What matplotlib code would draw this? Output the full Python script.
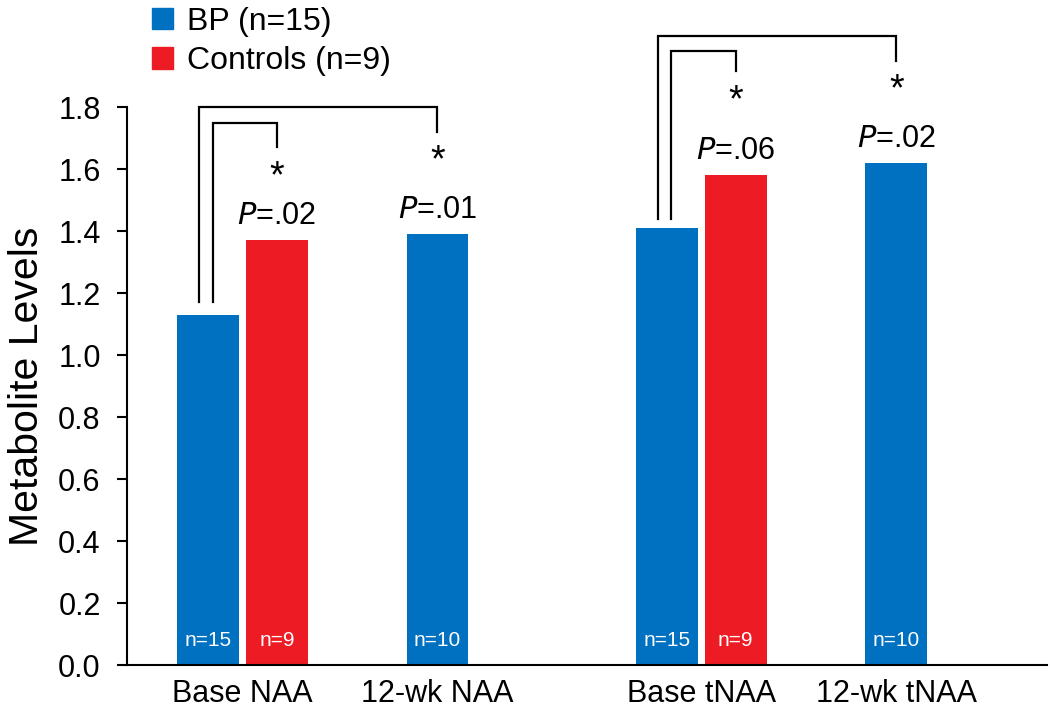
import numpy as np
import matplotlib
matplotlib.use('Agg')
import matplotlib.pyplot as plt
from matplotlib.patches import Patch

plt.rcParams['font.family'] = ['Liberation Sans', 'DejaVu Sans']

# Data
categories = ['Base NAA', '12-wk NAA', 'Base tNAA', '12-wk tNAA']
bp_values = [1.13, 1.39, 1.41, 1.62]
bp_n = ['n=15', 'n=10', 'n=15', 'n=10']
ctrl_values = [1.37, 1.58]          # only at baseline
ctrl_n = ['n=9', 'n=9']
p_labels = ['.02', '.01', '.06', '.02']
legend_labels = ['BP (n=15)', 'Controls (n=9)']

blue = '#0070C0'
red = '#ED1C24'

bp_x = np.arange(4)
ctrl_x = bp_x[[0, 2]] + 0.30
width = 0.27

fig = plt.figure(figsize=(10.5, 7.09), dpi=100)
ax = fig.add_axes([0.121, 0.062, 0.876, 0.787])

ax.bar(bp_x, bp_values, width, color=blue)
ax.bar(ctrl_x, ctrl_values, width, color=red)

# n labels inside bars
for x, t in zip(bp_x, bp_n):
    ax.text(x, 0.08, t, color='white', ha='center', va='center', fontsize=15)
for x, t in zip(ctrl_x, ctrl_n):
    ax.text(x, 0.08, t, color='white', ha='center', va='center', fontsize=15)

# P-value labels above the compared bars
p_x = [ctrl_x[0], bp_x[1], ctrl_x[1], bp_x[3]]
p_y = [ctrl_values[0], bp_values[1], ctrl_values[1], bp_values[3]]
for x, y, t in zip(p_x, p_y, p_labels):
    ax.text(x, y + 0.03, r'$\it{P}$' + '=' + t, ha='center', va='bottom', fontsize=22)


# brackets from baseline BP bar to the compared bar
def bracket(x0, x1, y_bottom, y_top, y_drop, star_y):
    ax.plot([x0, x0, x1, x1], [y_bottom, y_top, y_top, y_drop], color='black',
            lw=1.6, clip_on=False, solid_joinstyle='miter')
    ax.text(x1, star_y, '*', ha='center', va='center', fontsize=27)


bracket(bp_x[0] - 0.04, bp_x[1], 1.17, 1.80, 1.72, 1.625)
bracket(bp_x[0] + 0.02, ctrl_x[0], 1.17, 1.75, 1.67, 1.575)
bracket(bp_x[2] - 0.04, bp_x[3], 1.44, 2.03, 1.95, 1.855)
bracket(bp_x[2] + 0.02, ctrl_x[1], 1.44, 1.98, 1.915, 1.82)

ax.set_ylim(0, 1.8)
ax.set_xlim(-0.353, 3.656)
ax.set_yticks(np.arange(0, 1.81, 0.2))
ax.set_yticklabels(['%.1f' % v for v in np.arange(0, 1.81, 0.2)])
ax.set_xticks([0.15, 1, 2.15, 3])
ax.set_xticklabels(categories)
ax.tick_params(axis='y', labelsize=22, length=7, width=1.5, pad=12)
ax.tick_params(axis='x', labelsize=22, length=0, pad=10)
ax.set_ylabel('Metabolite Levels', fontsize=29.5, labelpad=9)

for s in ['top', 'right']:
    ax.spines[s].set_visible(False)
for s in ['left', 'bottom']:
    ax.spines[s].set_linewidth(1.5)

handles = [Patch(color=blue), Patch(color=red)]
fig.legend(handles, legend_labels, loc='upper left', bbox_to_anchor=(0.142, 0.995),
           frameon=False, fontsize=23, handlelength=0.65, handleheight=0.65,
           handletextpad=0.45, labelspacing=0.3, borderpad=0.1, borderaxespad=0)

fig.savefig('out.png', dpi=100)
